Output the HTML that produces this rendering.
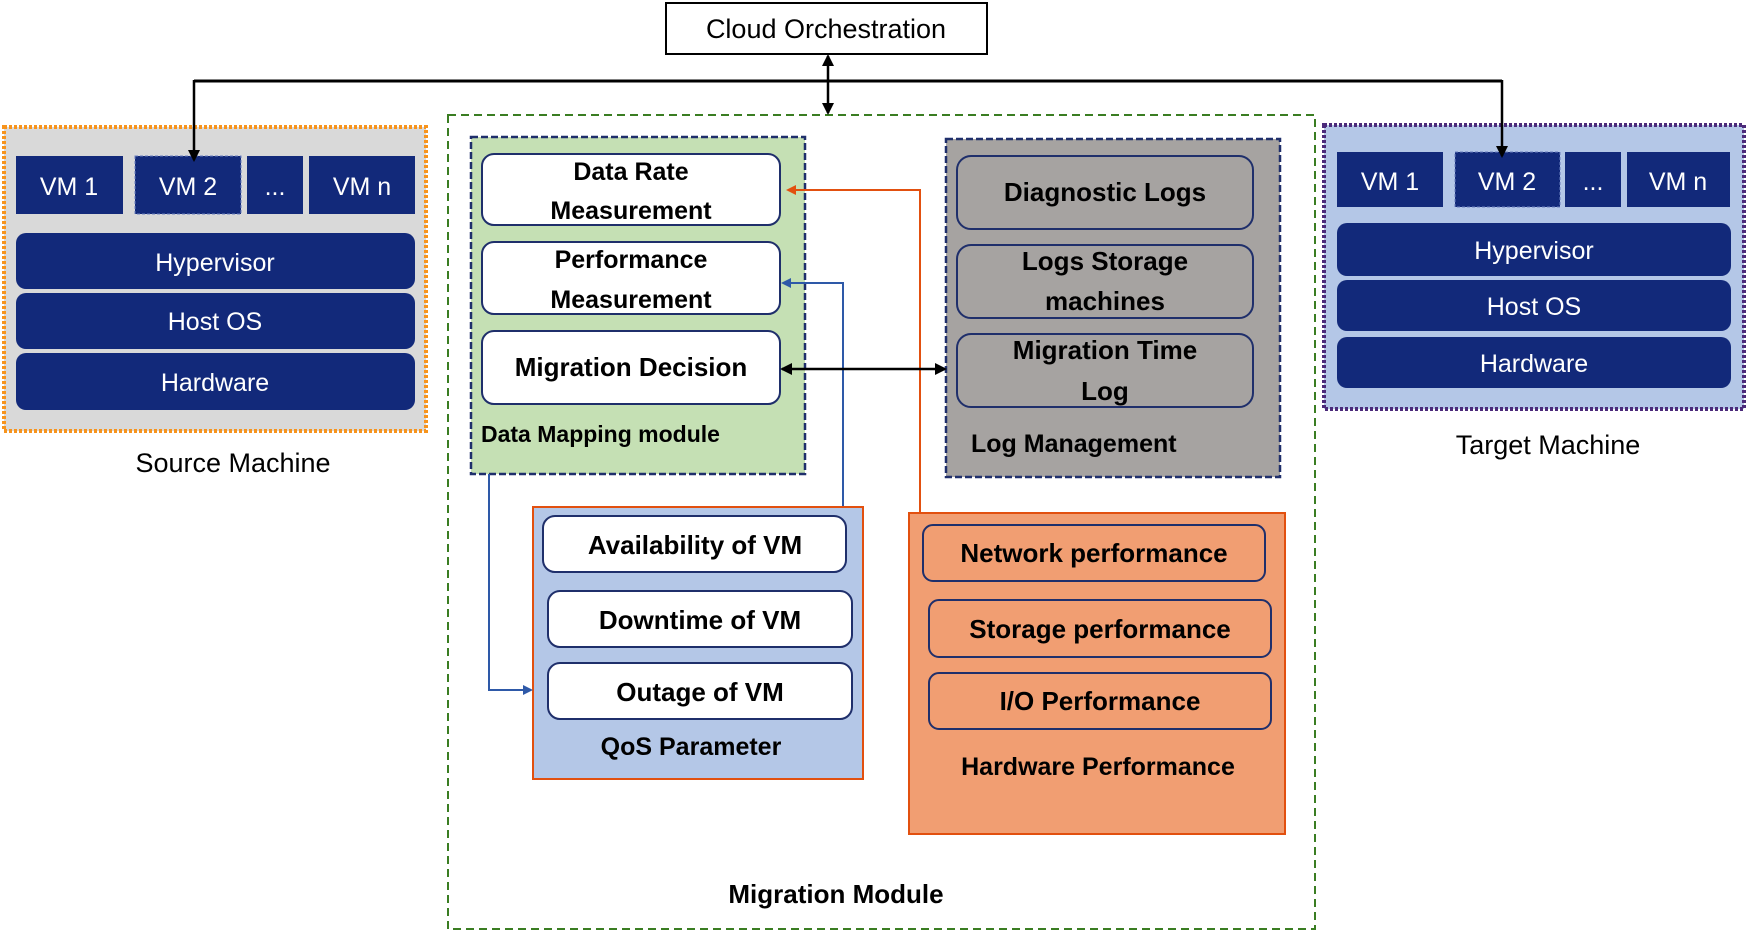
<!DOCTYPE html>
<html><head><meta charset="utf-8"><style>
html,body{margin:0;padding:0;background:#fff;}
svg{display:block;font-family:"Liberation Sans",sans-serif;}
.w{fill:#fff;font-size:25px;}
.b{fill:#000;font-size:25px;}
.bb{fill:#000;font-size:24px;font-weight:bold;}
</style></head><body>
<svg width="1748" height="933" viewBox="0 0 1748 933" xmlns="http://www.w3.org/2000/svg">
<defs>
<marker id="ak" markerWidth="12" markerHeight="12" refX="10" refY="6" orient="auto-start-reverse" markerUnits="userSpaceOnUse"><path d="M0,0 L12,6 L0,12 z" fill="#000"/></marker>
<marker id="ar" markerWidth="10" markerHeight="10" refX="8" refY="5" orient="auto" markerUnits="userSpaceOnUse"><path d="M0,0 L10,5 L0,10 z" fill="#e2500f"/></marker>
<marker id="ab" markerWidth="10" markerHeight="10" refX="8" refY="5" orient="auto" markerUnits="userSpaceOnUse"><path d="M0,0 L10,5 L0,10 z" fill="#2e59a8"/></marker>
</defs>

<!-- Cloud orchestration -->
<rect x="666" y="3" width="321" height="51" fill="#fff" stroke="#000" stroke-width="2"/>
<text x="826" y="38" text-anchor="middle" style="font-size:27px">Cloud Orchestration</text>

<!-- Migration module -->
<rect x="448" y="115" width="867" height="814" fill="none" stroke="#3a7d22" stroke-width="2" stroke-dasharray="8,5"/>
<text x="836" y="903" text-anchor="middle" class="bb" style="font-size:26px">Migration Module</text>

<!-- Source machine -->
<rect x="4" y="127" width="422" height="304" fill="#d9d9d9" stroke="#f7941d" stroke-width="4" stroke-dasharray="3,2"/>
<g fill="#12297a">
<rect x="16" y="156" width="107" height="58"/>
<rect x="135" y="156" width="106" height="58" stroke="#6b7fbf" stroke-width="1" stroke-dasharray="3,2"/>
<rect x="247" y="156" width="56" height="58"/>
<rect x="309" y="156" width="106" height="58"/>
<rect x="16" y="233" width="399" height="56" rx="10"/>
<rect x="16" y="293" width="399" height="56" rx="10"/>
<rect x="16" y="353" width="399" height="57" rx="10"/>
</g>
<text x="69" y="195" text-anchor="middle" class="w">VM 1</text>
<text x="188" y="195" text-anchor="middle" class="w">VM 2</text>
<text x="275" y="195" text-anchor="middle" class="w">...</text>
<text x="362" y="195" text-anchor="middle" class="w">VM n</text>
<text x="215" y="271" text-anchor="middle" class="w">Hypervisor</text>
<text x="215" y="330" text-anchor="middle" class="w">Host OS</text>
<text x="215" y="391" text-anchor="middle" class="w">Hardware</text>
<text x="233" y="472" text-anchor="middle" class="b" style="font-size:27px">Source Machine</text>

<!-- Target machine -->
<rect x="1324" y="125" width="420" height="284" fill="#b4c7e7" stroke="#4b2a7a" stroke-width="4" stroke-dasharray="3,2"/>
<g fill="#12297a">
<rect x="1337" y="152" width="106" height="55"/>
<rect x="1455" y="152" width="105" height="55" stroke="#6b7fbf" stroke-width="1" stroke-dasharray="3,2"/>
<rect x="1565" y="152" width="56" height="55"/>
<rect x="1627" y="152" width="103" height="55"/>
<rect x="1337" y="223" width="394" height="53" rx="10"/>
<rect x="1337" y="280" width="394" height="51" rx="10"/>
<rect x="1337" y="337" width="394" height="51" rx="10"/>
</g>
<text x="1390" y="190" text-anchor="middle" class="w">VM 1</text>
<text x="1507" y="190" text-anchor="middle" class="w">VM 2</text>
<text x="1593" y="190" text-anchor="middle" class="w">...</text>
<text x="1678" y="190" text-anchor="middle" class="w">VM n</text>
<text x="1534" y="259" text-anchor="middle" class="w">Hypervisor</text>
<text x="1534" y="315" text-anchor="middle" class="w">Host OS</text>
<text x="1534" y="372" text-anchor="middle" class="w">Hardware</text>
<text x="1548" y="454" text-anchor="middle" class="b" style="font-size:27px">Target Machine</text>

<!-- Data mapping -->
<rect x="471" y="137" width="334" height="337" fill="#c5e0b4" stroke="#1f2f6b" stroke-width="2.5" stroke-dasharray="7,3"/>
<g fill="#fff" stroke="#1f2f6b" stroke-width="2">
<rect x="482" y="154" width="298" height="71" rx="12"/>
<rect x="482" y="242" width="298" height="72" rx="12"/>
<rect x="482" y="331" width="298" height="73" rx="12"/>
</g>
<text x="631" y="180" text-anchor="middle" class="b" style="font-size:25px;font-weight:bold">Data Rate</text>
<text x="631" y="219" text-anchor="middle" class="b" style="font-size:25px;font-weight:bold">Measurement</text>
<text x="631" y="268" text-anchor="middle" class="b" style="font-size:25px;font-weight:bold">Performance</text>
<text x="631" y="308" text-anchor="middle" class="b" style="font-size:25px;font-weight:bold">Measurement</text>
<text x="631" y="376" text-anchor="middle" class="b" style="font-size:26px;font-weight:bold">Migration Decision</text>
<text x="481" y="442" class="bb" style="font-size:23px">Data Mapping module</text>

<!-- Log management -->
<rect x="946" y="139" width="334" height="338" fill="#a6a3a1" stroke="#1f2f6b" stroke-width="2.5" stroke-dasharray="7,3"/>
<g fill="#a6a3a1" stroke="#1f2f6b" stroke-width="2">
<rect x="957" y="156" width="296" height="73" rx="14"/>
<rect x="957" y="245" width="296" height="73" rx="14"/>
<rect x="957" y="334" width="296" height="73" rx="14"/>
</g>
<text x="1105" y="201" text-anchor="middle" class="b" style="font-size:26px;font-weight:bold">Diagnostic Logs</text>
<text x="1105" y="270" text-anchor="middle" class="b" style="font-size:26px;font-weight:bold">Logs Storage</text>
<text x="1105" y="310" text-anchor="middle" class="b" style="font-size:26px;font-weight:bold">machines</text>
<text x="1105" y="359" text-anchor="middle" class="b" style="font-size:26px;font-weight:bold">Migration Time</text>
<text x="1105" y="400" text-anchor="middle" class="b" style="font-size:26px;font-weight:bold">Log</text>
<text x="971" y="452" class="bb" style="font-size:25px">Log Management</text>

<!-- QoS -->
<rect x="533" y="507" width="330" height="272" fill="#b4c7e7" stroke="#e2500f" stroke-width="2"/>
<g fill="#fff" stroke="#1f2f6b" stroke-width="2">
<rect x="543" y="516" width="303" height="56" rx="12"/>
<rect x="548" y="591" width="304" height="56" rx="12"/>
<rect x="548" y="663" width="304" height="56" rx="12"/>
</g>
<text x="695" y="554" text-anchor="middle" class="b" style="font-size:26px;font-weight:bold">Availability of VM</text>
<text x="700" y="629" text-anchor="middle" class="b" style="font-size:26px;font-weight:bold">Downtime of VM</text>
<text x="700" y="701" text-anchor="middle" class="b" style="font-size:26px;font-weight:bold">Outage of VM</text>
<text x="691" y="755" text-anchor="middle" class="bb" style="font-size:25px">QoS Parameter</text>

<!-- Hardware performance -->
<rect x="909" y="513" width="376" height="321" fill="#f19e72" stroke="#e2500f" stroke-width="2"/>
<g fill="#f19e72" stroke="#1f2f6b" stroke-width="2">
<rect x="923" y="525" width="342" height="56" rx="10"/>
<rect x="929" y="600" width="342" height="57" rx="10"/>
<rect x="929" y="673" width="342" height="56" rx="10"/>
</g>
<text x="1094" y="562" text-anchor="middle" class="b" style="font-size:26px;font-weight:bold">Network performance</text>
<text x="1100" y="638" text-anchor="middle" class="b" style="font-size:26px;font-weight:bold">Storage performance</text>
<text x="1100" y="710" text-anchor="middle" class="b" style="font-size:26px;font-weight:bold">I/O Performance</text>
<text x="1098" y="775" text-anchor="middle" class="bb" style="font-size:25px">Hardware Performance</text>

<!-- connectors -->
<path d="M194,81 H1502" stroke="#000" stroke-width="3" fill="none"/>
<path d="M194,80 V160" stroke="#000" stroke-width="2.5" fill="none" marker-end="url(#ak)"/>
<path d="M1502,80 V156" stroke="#000" stroke-width="2.5" fill="none" marker-end="url(#ak)"/>
<path d="M828,56 V113" stroke="#000" stroke-width="2.5" fill="none" marker-start="url(#ak)" marker-end="url(#ak)"/>
<path d="M920,513 V190 H788" stroke="#e2500f" stroke-width="2" fill="none" marker-end="url(#ar)"/>
<path d="M843,506 V283 H783" stroke="#2e59a8" stroke-width="2" fill="none" marker-end="url(#ab)"/>
<path d="M489,474 V690 H531" stroke="#2e59a8" stroke-width="2" fill="none" marker-end="url(#ab)"/>
<path d="M782,369 H945" stroke="#000" stroke-width="2.5" fill="none" marker-start="url(#ak)" marker-end="url(#ak)"/>
</svg>
</body></html>
